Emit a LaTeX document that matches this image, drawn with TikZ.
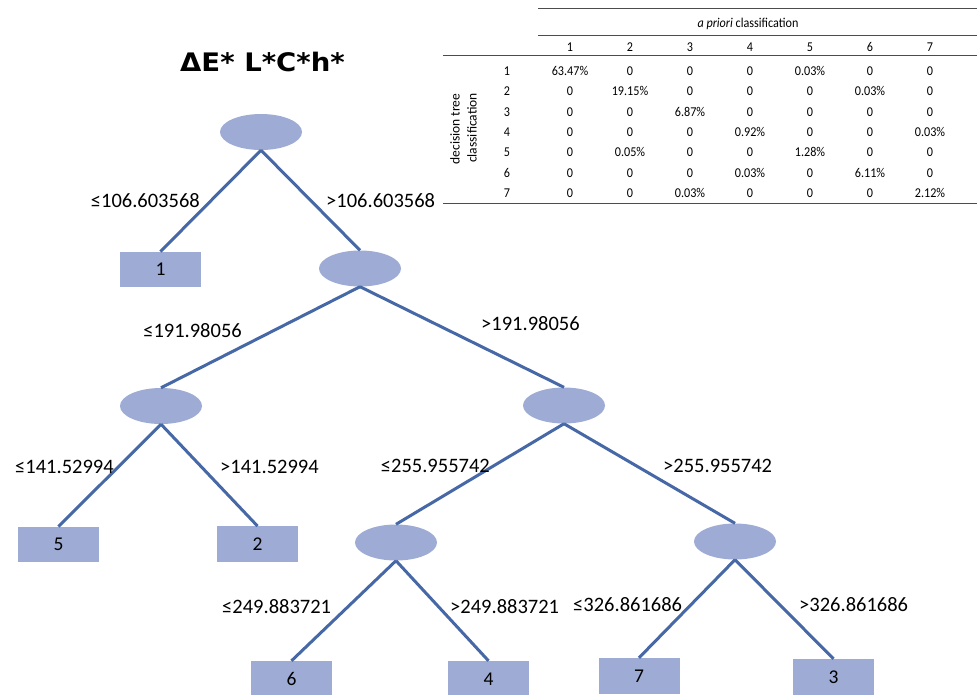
\documentclass[tikz,border=0pt]{standalone}
\usepackage{fontspec}
\setmainfont{Carlito}
\newfontfamily\titlefont{DejaVu Sans}
\usetikzlibrary{shapes.geometric}
\definecolor{nodefill}{RGB}{158,172,213}
\definecolor{edgeblue}{RGB}{70,104,166}
\begin{document}
\begin{tikzpicture}[x=1pt,y=-1pt,
  split/.style={ellipse,fill=nodefill,minimum width=82pt,minimum height=36pt,inner sep=0pt},
  leaf/.style={rectangle,fill=nodefill,minimum width=81pt,minimum height=35.5pt,inner sep=0pt,font=\fontsize{19.5}{24}\selectfont},
  edge/.style={draw=edgeblue,line width=3pt},
  lbl/.style={font=\fontsize{20.5}{24}\selectfont,inner sep=0pt},
  tbl/.style={font=\fontsize{13.5}{16}\selectfont,inner sep=0pt,xscale=0.9},
  vtbl/.style={font=\fontsize{13.5}{16}\selectfont,inner sep=0pt,rotate=90},
  rule/.style={draw=black!70,line width=0.8pt}]
\useasboundingbox (0,0) rectangle (977,694);
\clip (0,0) rectangle (977,694);
\fill[white] (0,0) rectangle (977,694);

% title
\node[font={\fontsize{25.5}{30}\selectfont\titlefont\bfseries},inner sep=0pt,anchor=base,xscale=1.08] (title) at (262.5,71) {ΔE* L*C*h*};

% tree nodes
\node[split] (root) at (261,132) {};
\node[split] (n2) at (360,268.5) {};
\node[split] (n3) at (161,406) {};
\node[split] (n4) at (564,405.5) {};
\node[split] (n5) at (396,542.5) {};
\node[split] (n6) at (735,541.5) {};

\node[leaf] (l1) at (160.5,269.5) {1};
\node[leaf] (l5) at (58.5,544.5) {5};
\node[leaf] (l2) at (257.5,544) {2};
\node[leaf,minimum height=36pt] (l6) at (291.5,679) {6};
\node[leaf,minimum height=36pt] (l4) at (488.5,679) {4};
\node[leaf,minimum height=36pt] (l7) at (639,676) {7};
\node[leaf,minimum height=36pt] (l3) at (833.5,677) {3};

% edges
\draw[edge] (root.south) -- (l1.north);
\draw[edge] (root.south) -- (n2.north);
\draw[edge] (n2.south) -- (n3.north);
\draw[edge] (n2.south) -- (n4.north);
\draw[edge] (n3.south) -- (l5.north);
\draw[edge] (n3.south) -- (l2.north);
\draw[edge] (n4.south) -- (n5.north);
\draw[edge] (n4.south) -- (n6.north);
\draw[edge] (n5.south) -- (l6.north);
\draw[edge] (n5.south) -- (l4.north);
\draw[edge] (n6.south) -- (l7.north);
\draw[edge] (n6.south) -- (l3.north);

% edge labels
\node[lbl,anchor=base east] (e1) at (200,207) {≤106.603568};
\node[lbl,anchor=base west] (e2) at (326,207) {>106.603568};
\node[lbl,anchor=base east] (e3) at (242,337) {≤191.98056};
\node[lbl,anchor=base west] (e4) at (481,330) {>191.98056};
\node[lbl,anchor=base west] (e5) at (15,473) {≤141.52994};
\node[lbl,anchor=base west] (e6) at (220,473) {>141.52994};
\node[lbl,anchor=base east] (e7) at (490,472) {≤255.955742};
\node[lbl,anchor=base west] (e8) at (663,472) {>255.955742};
\node[lbl,anchor=base west] (e9) at (222,613) {≤249.883721};
\node[lbl,anchor=base west] (e10) at (450,613) {>249.883721};
\node[lbl,anchor=base west] (e11) at (573,611) {≤326.861686};
\node[lbl,anchor=base west] (e12) at (799,611) {>326.861686};

% table
\draw[rule] (538,8) -- (977,8);
\draw[rule] (538,35) -- (977,35);
\draw[rule] (443,55) -- (977,55);
\draw[rule] (443,203) -- (977,203);
\node[tbl,anchor=base] (ap) at (748,27) {\textit{a priori} classification};
\foreach \c in {1,...,7} {
  \node[tbl,name=h\c] at ({570+60*(\c-1)},47) {\c};
}
\node[vtbl] (dt) at (455,129) {decision tree};
\node[vtbl] (cl) at (472,128) {classification};
\foreach \vals [count=\r] in {
  {63.47\%,0,0,0,0.03\%,0,0},
  {0,19.15\%,0,0,0,0.03\%,0},
  {0,0,6.87\%,0,0,0,0},
  {0,0,0,0.92\%,0,0,0.03\%},
  {0,0.05\%,0,0,1.28\%,0,0},
  {0,0,0,0.03\%,0,6.11\%,0},
  {0,0,0.03\%,0,0,0,2.12\%}} {
  \node[tbl,name=r\r] at (507,{71+20.35*(\r-1)}) {\r};
  \foreach \v [count=\c] in \vals {
    \node[tbl,name=c\r-\c] at ({570+60*(\c-1)},{71+20.35*(\r-1)}) {\v};
  }
}
\end{tikzpicture}
\end{document}
